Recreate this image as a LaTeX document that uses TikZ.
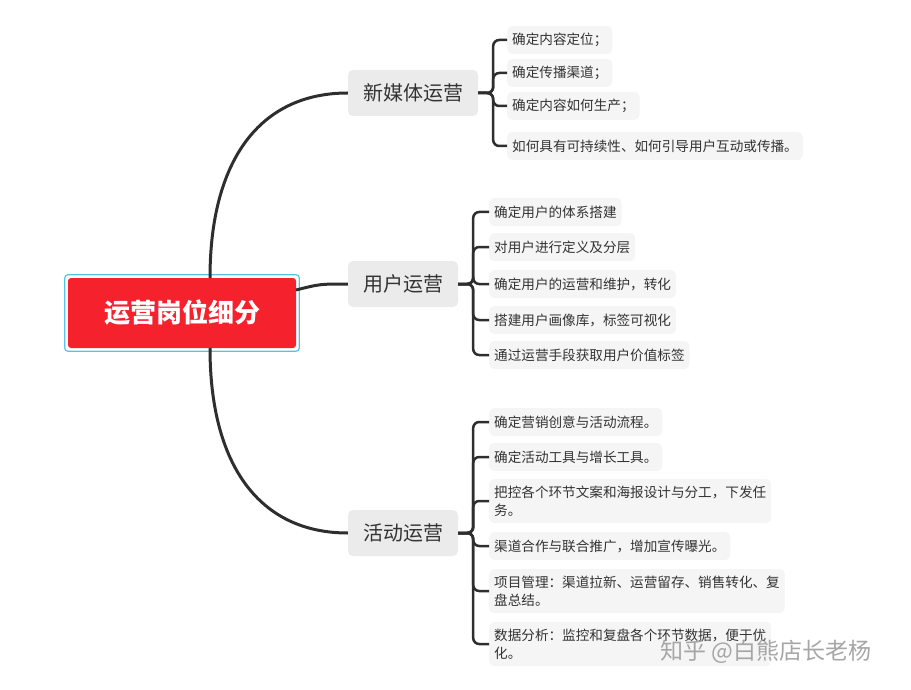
\documentclass[tikz,border=0pt]{standalone}
\usepackage{fontspec}
\setmainfont{Noto Sans CJK SC}
\begin{document}
\begin{tikzpicture}[x=1pt,y=-1pt,
  root/.style={fill=rootred,rounded corners=3pt,minimum width=228pt,minimum height=70pt,text=white,font=\fontsize{26}{30}\selectfont\bfseries},
  branch/.style={fill=branchgray,rounded corners=5pt,minimum height=46pt,inner xsep=15pt,text=textgray,font=\fontsize{20}{24}\selectfont},
  leaf/.style={fill=leafgray,rounded corners=5pt,anchor=west,minimum height=28pt,inner xsep=5pt,align=left,text=textgray,font=\fontsize{13.6}{18}\selectfont},
  conn/.style={draw=linedark,line width=3pt},
  br/.style={draw=linedark,line width=2.5pt,rounded corners=6pt}]
\definecolor{rootred}{HTML}{F5222D}
\definecolor{branchgray}{HTML}{EBEBEB}
\definecolor{leafgray}{HTML}{F5F5F5}
\definecolor{textgray}{HTML}{333333}
\definecolor{linedark}{HTML}{2E2E2E}
\definecolor{rootborder}{HTML}{5BC0E8}
\useasboundingbox (0,0) rectangle (911,690);
\node[root] (r) at (182,313) {运营岗位细分};
\draw[rootborder,line width=1.2pt,rounded corners=3pt] ([xshift=-3pt,yshift=3pt]r.north west) rectangle ([xshift=3pt,yshift=-3pt]r.south east);
\node[branch] (b1) at (413,93) {新媒体运营};
\node[branch] (b2) at (403,284) {用户运营};
\node[branch] (b3) at (403,533) {活动运营};
\coordinate (s1) at (210,278);
\coordinate (s2) at (296,290);
\coordinate (s3) at (210,348);
\draw[conn] (s1) .. controls (210,160) and (260,93) .. (b1.west);
\draw[conn] (s2) .. controls (320,284) .. (b2.west);
\draw[conn] (s3) .. controls (210,466) and (260,533) .. (b3.west);
% leaves 1
\node[leaf] (a1) at (507,40) {确定内容定位；};
\node[leaf] (a2) at (507,73) {确定传播渠道；};
\node[leaf] (a3) at (507,106) {确定内容如何生产；};
\node[leaf] (a4) at (507,146) {如何具有可持续性、如何引导用户互动或传播。};
\foreach \l in {a1,a2,a3,a4}{\draw[br] (b1.east) -- ++(15,0) |- (\l.west);}
% leaves 2
\node[leaf] (c1) at (489,212) {确定用户的体系搭建};
\node[leaf] (c2) at (489,247) {对用户进行定义及分层};
\node[leaf] (c3) at (489,284) {确定用户的运营和维护，转化};
\node[leaf] (c4) at (489,320) {搭建用户画像库，标签可视化};
\node[leaf] (c5) at (489,355) {通过运营手段获取用户价值标签};
\foreach \l in {c1,c2,c3,c4,c5}{\draw[br] (b2.east) -- ++(15,0) |- (\l.west);}
% leaves 3
\node[leaf] (d1) at (489,422) {确定营销创意与活动流程。};
\node[leaf] (d2) at (489,457) {确定活动工具与增长工具。};
\node[leaf,minimum height=44pt] (d3) at (489,501) {把控各个环节文案和海报设计与分工，下发任\\务。};
\node[leaf] (d4) at (489,546) {渠道合作与联合推广，增加宣传曝光。};
\node[leaf,minimum height=44pt] (d5) at (489,591) {项目管理：渠道拉新、运营留存、销售转化、复\\盘总结。};
\node[leaf,minimum height=44pt] (d6) at (489,644) {数据分析：监控和复盘各个环节数据，便于优\\化。};
\foreach \l in {d1,d2,d3,d4,d5,d6}{\draw[br] (b3.east) -- ++(15,0) |- (\l.west);}
\node[text=gray!70,font=\fontsize{23}{26}\selectfont] (wm) at (766,652) {知乎 @白熊店长老杨};
\end{tikzpicture}
\end{document}
